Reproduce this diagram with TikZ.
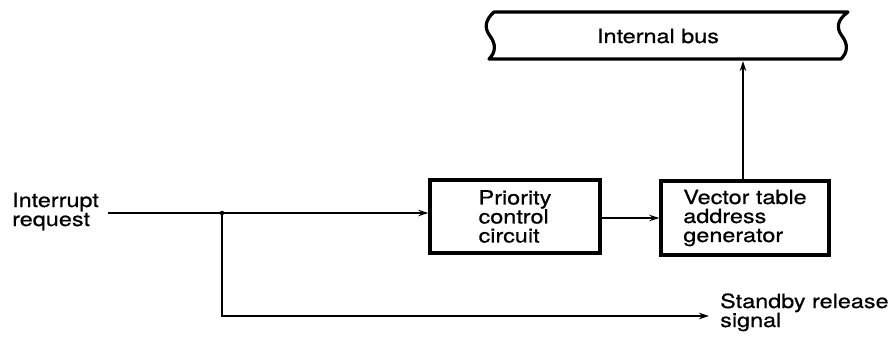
\documentclass[tikz,border=0pt]{standalone}
\usepackage{fontspec}
\setmainfont{TeX Gyre Heros}[FakeStretch=1.2,FakeBold=0.6]
\usetikzlibrary{arrows.meta}
\begin{document}
\begin{tikzpicture}[x=1pt,y=-1pt,
  blockbox/.style={draw,line width=3.4pt,minimum width=170pt,minimum height=73pt,align=left,inner sep=0pt},
  lbl/.style={align=left,inner sep=0pt,anchor=base west},
  conn/.style={line width=2pt},
  arr/.style={conn,-{Stealth[length=10pt,width=6.5pt]}},
  every node/.style={font=\fontsize{19.5pt}{19pt}\selectfont}]
\useasboundingbox (0,0) rectangle (890,339);
% internal bus
\draw[line width=3.2pt,line join=round]
  (494,12) -- (848,12)
  .. controls (837,20) and (836,28) .. (842,36)
  .. controls (848,44) and (848,52) .. (841,59)
  -- (489,59)
  .. controls (496,52) and (496,44) .. (490,36)
  .. controls (484,28) and (485,20) .. (494,12) -- cycle;
\node[anchor=base] (bus) at (658,43) {Internal bus};
\coordinate (busb) at (743,61);
% blocks
\node[blockbox] (prio) at (515,216.5) {Priority\\control\\circuit};
\node[blockbox,minimum width=168pt,minimum height=74pt] (vtag) at (745,218) {Vector table\\address\\generator};
% inputs/outputs
\node[lbl] (irq) at (12,226) {Interrupt\\request};
\coordinate (irqs) at (108,213);
\coordinate (jn) at (222,213);
\coordinate (corner) at (222,316);
\coordinate (sbend) at (709,316);
\node[lbl] (sb) at (720,327) {Standby release\\signal};
\draw[arr] (irqs) -- (prio.west|-irqs);
\fill (jn) circle (2.2pt);
\draw[arr] (jn) -- (corner) -- (sbend);
\draw[arr] (prio.east|-vtag) -- (vtag.west);
\draw[arr] (vtag.north-|busb) -- (busb);
\end{tikzpicture}
\end{document}
